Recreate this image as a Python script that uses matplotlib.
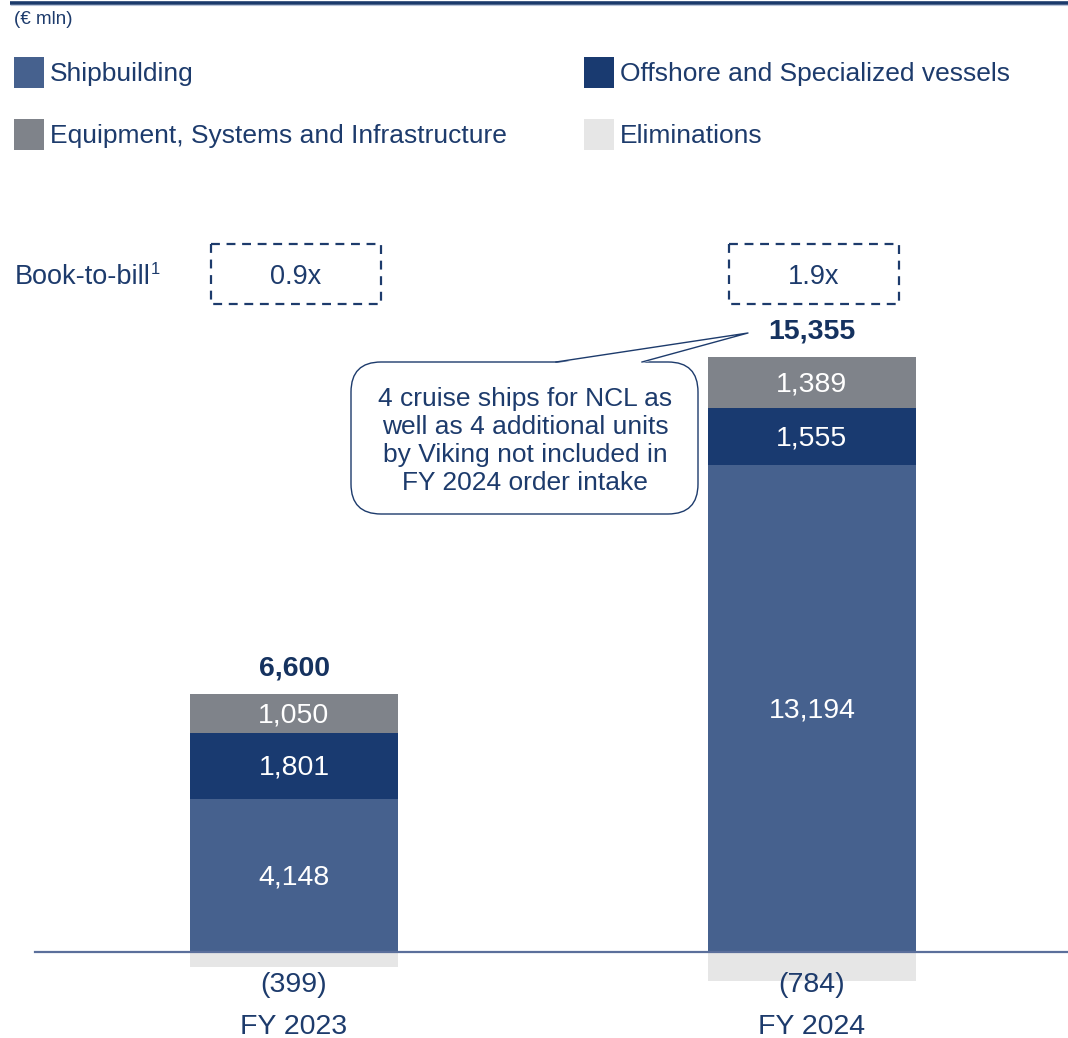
import matplotlib
matplotlib.use("Agg")
import matplotlib.pyplot as plt
from matplotlib.patches import Rectangle, FancyBboxPatch, Polygon

FONT = ["Liberation Sans", "DejaVu Sans"]
plt.rcParams["font.family"] = FONT

# Order intake by segment (€ mln)
years = ["FY 2023", "FY 2024"]
shipbuilding = [4148, 13194]
offshore = [1801, 1555]
equipment = [1050, 1389]
eliminations = [-399, -784]
totals = [6600, 15355]
book_to_bill = ["0.9x", "1.9x"]
segment_names = ["Shipbuilding", "Offshore and Specialized vessels",
                 "Equipment, Systems and Infrastructure", "Eliminations"]
callout_text = ("4 cruise ships for NCL as\nwell as 4 additional units\n"
                "by Viking not included in\nFY 2024 order intake")

C_SHIP = "#46618E"
C_OFF = "#193A70"
C_EQ = "#7F838A"
C_EL = "#E6E6E6"
NAVY = "#1D3B6C"
DARK = "#15325F"

W, H = 1068, 1038
fig = plt.figure(figsize=(W / 100, H / 100), dpi=100)
fig.patch.set_facecolor("white")

# data axes: whole figure, bars centred at x=0 and x=1
ax = fig.add_axes([0, 0, 1, 1])
ppu_x = 518.0
ax.set_xlim(-294 / ppu_x, (W - 294) / ppu_x)
upx = 27.12  # € mln per pixel
ax.set_ylim((952 - H) * upx, 952 * upx)
ax.axis("off")

x = [0, 1]
bw = 208 / ppu_x
b2 = [s + o for s, o in zip(shipbuilding, offshore)]
ax.bar(x, shipbuilding, bw, color=C_SHIP, zorder=2)
ax.bar(x, offshore, bw, bottom=shipbuilding, color=C_OFF, zorder=2)
ax.bar(x, equipment, bw, bottom=b2, color=C_EQ, zorder=2)
ax.bar(x, eliminations, bw, color=C_EL, zorder=1)
ax.axhline(0, xmin=35 / W, xmax=1, color="#5B6F9B", lw=1.6, zorder=3)

lab_fs = 20.5
for i in range(2):
    s, o, e, el = shipbuilding[i], offshore[i], equipment[i], eliminations[i]
    for bottom, val in [(0, s), (s, o), (s + o, e)]:
        ax.annotate(f"{val:,}", (x[i], bottom + val / 2), xytext=(0, -1.5), textcoords="offset points",
                    ha="center", va="center", color="white", fontsize=lab_fs, zorder=4)
    ax.annotate(f"{totals[i]:,}", (x[i], s + o + e), xytext=(0, 18), textcoords="offset points",
                ha="center", va="center", color=DARK, fontsize=20.5, fontweight="bold", zorder=4)
    ax.annotate(f"({-el:,})", (x[i], 0), xytext=(0, -24), textcoords="offset points",
                ha="center", va="center", color=NAVY, fontsize=lab_fs, zorder=4)
    ax.annotate(years[i], (x[i], 0), xytext=(0, -54), textcoords="offset points",
                ha="center", va="center", color=NAVY, fontsize=lab_fs, zorder=4)

# overlay in pixel coordinates for header, legend, boxes and callout
ov = fig.add_axes([0, 0, 1, 1], zorder=5)
ov.set_xlim(0, W)
ov.set_ylim(H, 0)
ov.axis("off")
ov.patch.set_alpha(0)

ov.plot([10, W], [2.5, 2.5], color="#1B3A6B", lw=2.6, solid_capstyle="butt")
ov.plot([10, W], [5.2, 5.2], color="#B9C5DA", lw=0.8, solid_capstyle="butt")
ov.text(14, 19, "(€ mln)", ha="left", va="center", color=NAVY, fontsize=13.5)

legend_pos = [(14, 72), (584, 72), (14, 134), (584, 134)]
legend_cols = [C_SHIP, C_OFF, C_EQ, C_EL]
for (lx, ly), name, col in zip(legend_pos, segment_names, legend_cols):
    ov.add_patch(Rectangle((lx, ly - 15.5), 30, 31, color=col, lw=0))
    ov.text(lx + 36, ly + 2, name, ha="left", va="center", color=NAVY, fontsize=19)

# book-to-bill row
ov.text(15, 277, "Book-to-bill", ha="left", va="center", color=NAVY, fontsize=19.5)
ov.text(151, 269, "1", ha="left", va="center", color=NAVY, fontsize=12)
for cx, val in zip([296, 814], book_to_bill):
    ov.add_patch(Rectangle((cx - 85, 244), 170, 60, fill=False, edgecolor=NAVY,
                           lw=1.6, linestyle=(0, (4, 3))))
    ov.text(cx, 277, val, ha="center", va="center", color=NAVY, fontsize=19.5)

# callout bubble
bx0, by0, bx1, by1 = 351, 362, 698, 514
ov.add_patch(FancyBboxPatch((bx0, by0), bx1 - bx0, by1 - by0,
                            boxstyle="round,pad=0,rounding_size=30",
                            facecolor="white", edgecolor=NAVY, lw=1.0, zorder=6))
tip = (748, 333)
ov.add_patch(Polygon([(556, by0 + 1.2), tip, (642, by0 + 1.2)], closed=True,
                     facecolor="white", edgecolor="none", zorder=7))
ov.plot([556, tip[0], 642], [by0, tip[1], by0], color=NAVY, lw=1.0, zorder=8)
ov.text(525, 441, callout_text, ha="center", va="center", color=NAVY,
        fontsize=19, linespacing=1.2, zorder=9)

fig.savefig("out.png", dpi=100, facecolor="white")
